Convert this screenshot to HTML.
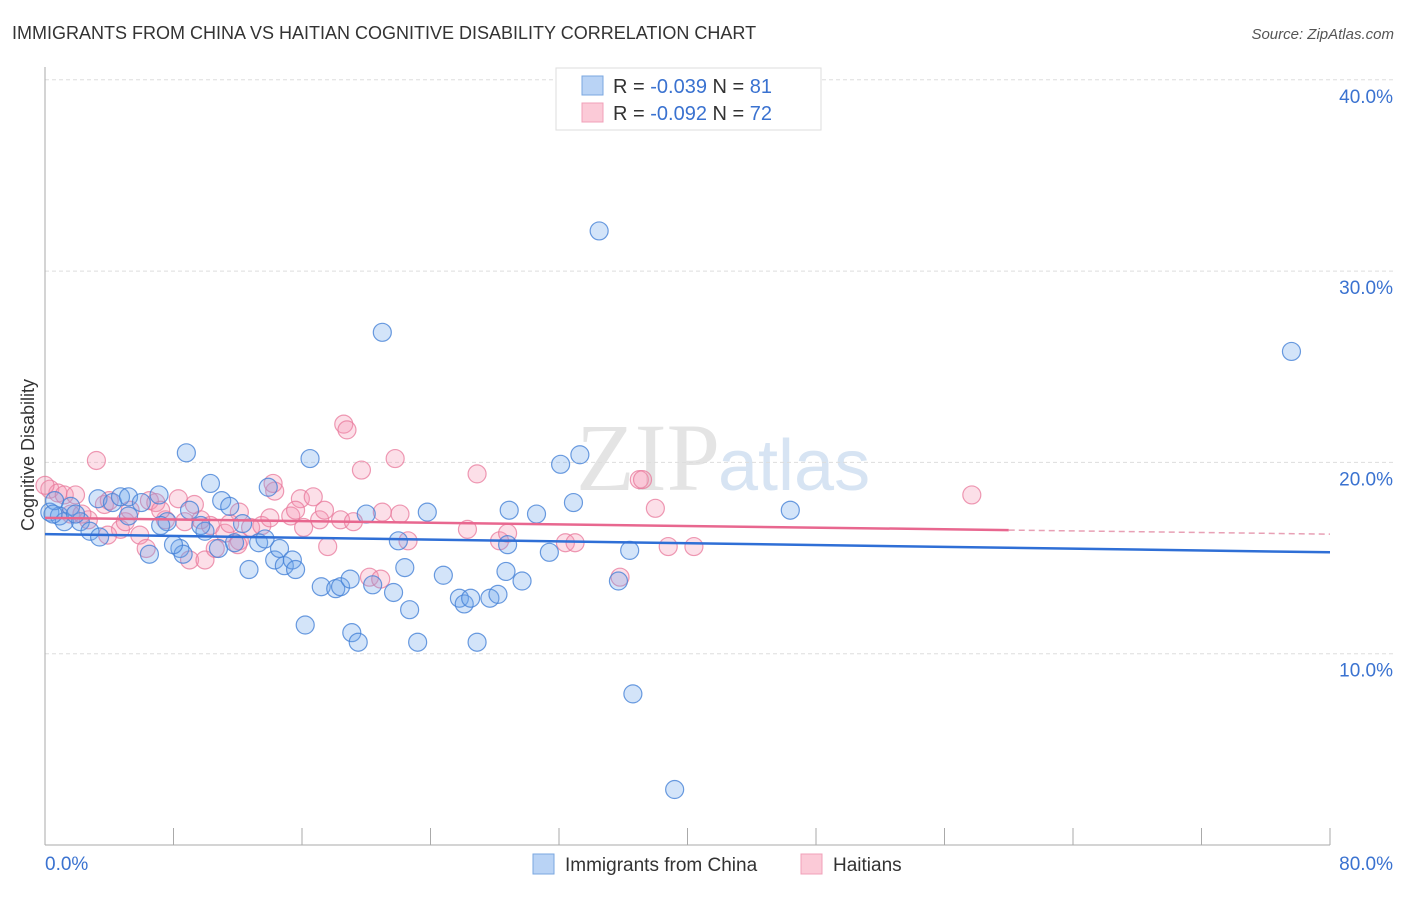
<!DOCTYPE html>
<html><head><meta charset="utf-8"><style>
body{margin:0;background:#fff;font-family:"Liberation Sans",sans-serif;}
#wrap{position:relative;width:1406px;height:892px;}
</style></head><body>
<div id="wrap">
<svg id="svg" width="1406" height="892" xmlns="http://www.w3.org/2000/svg">
<text x="12" y="39" font-size="18" fill="#333">IMMIGRANTS FROM CHINA VS HAITIAN COGNITIVE DISABILITY CORRELATION CHART</text>
<text x="1394" y="39" font-size="15" fill="#555" font-style="italic" text-anchor="end">Source: ZipAtlas.com</text>
<text x="34" y="455" font-size="18" fill="#333" transform="rotate(-90 34 455)" text-anchor="middle">Cognitive Disability</text>
<text x="720" y="490" font-size="96" fill="#e4e4e4" font-family="Liberation Serif" text-anchor="end">ZIP</text>
<text x="718" y="490" font-size="72" fill="#d7e4f3" text-anchor="start">atlas</text>
<g id="grid"></g><g id="axes"></g><g id="pts"></g><g id="trend"></g>
<g>
<rect x="556" y="68" width="265" height="62" fill="#fff" stroke="#ddd"/>
<rect x="582" y="76" width="21" height="19" fill="#b9d3f5" stroke="#7aa7e0"/>
<rect x="582" y="103" width="21" height="19" fill="#fbcad7" stroke="#f0a0b8"/>
<text x="613" y="93" font-size="20" fill="#333">R = <tspan fill="#3a72d0">-0.039</tspan>   N = <tspan fill="#3a72d0">81</tspan></text>
<text x="613" y="120" font-size="20" fill="#333">R = <tspan fill="#3a72d0">-0.092</tspan>   N = <tspan fill="#3a72d0">72</tspan></text>
</g>
<g>
<rect x="533" y="854" width="21" height="20" fill="#b9d3f5" stroke="#7aa7e0"/>
<text x="565" y="871" font-size="19" fill="#333">Immigrants from China</text>
<rect x="801" y="854" width="21" height="20" fill="#fbcad7" stroke="#f0a0b8"/>
<text x="833" y="871" font-size="19" fill="#333">Haitians</text>
</g>
</svg></div>
<script>
const blueX=[34.5,21.0,77.6,8.8,16.5,32.1,33.3,10.3,0.3,0.9,0.6,1.6,2.2,3.3,4.2,4.7,5.2,5.2,6.0,7.1,7.6,8.4,8.6,9.0,9.96,9.7,11.0,10.8,11.5,12.3,12.7,13.3,13.9,14.3,14.6,14.9,15.4,16.2,15.6,17.2,18.1,18.4,19.1,19.5,19.0,20.0,20.4,21.7,22.0,22.4,22.7,23.2,23.8,24.8,25.8,26.1,26.9,26.5,27.7,28.2,28.8,28.7,28.9,30.6,31.4,32.9,35.7,36.6,36.4,39.2,29.7,46.4,1.2,2.8,6.5,8.0,11.8,13.7,7.2,3.4,0.5,1.9];
const blueY=[32.1,26.8,25.8,20.5,20.2,19.9,20.4,18.9,17.4,17.2,18.0,17.7,16.9,18.1,17.9,18.2,18.2,17.2,17.9,18.3,16.9,15.5,15.2,17.5,16.4,16.7,18.0,15.5,17.7,16.8,14.4,15.8,18.7,14.9,15.5,14.6,14.9,11.5,14.4,13.5,13.4,13.5,11.1,10.6,13.9,17.3,13.6,13.2,15.9,14.5,12.3,10.6,17.4,14.1,12.9,12.6,10.6,12.9,12.9,13.1,15.7,14.3,17.5,17.3,15.3,17.9,13.8,7.9,15.4,2.9,13.8,17.5,16.9,16.4,15.2,15.7,15.8,16.0,16.7,16.1,17.3,17.3];
const pinkX=[18.6,3.2,21.8,19.7,26.9,37.0,38.0,57.7,14.3,15.9,16.7,0.3,0.8,1.2,1.9,3.7,4.0,6.5,6.9,8.3,7.5,8.7,9.7,10.3,11.2,12.1,12.8,13.5,12.1,14.0,15.3,15.6,16.1,17.1,17.4,18.4,19.2,17.6,21.0,22.1,20.2,22.6,26.3,28.3,28.8,32.4,33.0,35.8,38.8,40.4,37.2,5.9,4.7,3.9,6.3,9.0,9.96,10.6,12.0,2.7,5.0,5.3,7.2,9.3,0.0,1.6,2.3,11.5,14.2,18.8,20.9];
const pinkY=[22.0,20.1,20.2,19.6,19.4,19.1,17.6,18.3,18.5,18.1,18.2,18.6,18.4,18.3,18.3,17.8,18.0,18.0,17.9,18.1,17.0,16.9,17.0,16.7,16.3,15.9,16.6,16.7,17.4,17.1,17.2,17.5,16.6,17.0,17.5,17.0,16.9,15.6,17.4,17.3,14.0,15.9,16.5,15.9,16.3,15.8,15.8,14.0,15.6,15.6,19.1,16.2,16.5,16.2,15.5,14.9,14.9,15.5,15.7,17.0,16.9,17.5,17.5,17.8,18.8,17.3,17.3,16.8,18.9,21.7,13.9];
const blueTrend=[16.25,15.3];
const pinkTrend=[17.1,16.25];
const pinkSolidEnd=60;
const yTicks=[10,20,30,40];
const yTickLabels=["10.0%","20.0%","30.0%","40.0%"];
const xTicks=[0,8,16,24,32,40,48,56,64,72,80];
const NS="http://www.w3.org/2000/svg";
const X=v=>45+v*(1285/80);
const Y=v=>845-v*19.13;
function mk(tag,attrs,parent){const e=document.createElementNS(NS,tag);for(const k in attrs)e.setAttribute(k,attrs[k]);parent.appendChild(e);return e;}
const grid=document.getElementById('grid'),axes=document.getElementById('axes'),pts=document.getElementById('pts'),trend=document.getElementById('trend');
yTicks.forEach((t,i)=>{
 const l=mk('line',{x1:45,x2:1394,y1:Y(t),y2:Y(t),stroke:'#ddd','stroke-dasharray':'4,3'},grid);
 
 
 const tx=mk('text',{x:1393,y:Y(t)+23,'font-size':19,fill:'#3a72d0','text-anchor':'end'},axes);
 tx.textContent=yTickLabels[i];
 
 
});
const ya=mk('line',{x1:45,x2:45,y1:67,y2:845,stroke:'#aaa'},axes);


const xa=mk('line',{x1:45,x2:1330,y1:845,y2:845,stroke:'#aaa'},axes);


xTicks.forEach(t=>{
 const l=mk('line',{x1:X(t),x2:X(t),y1:828,y2:845,stroke:'#aaa'},axes);
 
 
});
const x0=mk('text',{x:45,y:870,'font-size':19,fill:'#3a72d0'},axes);x0.textContent='0.0%';


const x1=mk('text',{x:1393,y:870,'font-size':19,fill:'#3a72d0','text-anchor':'end'},axes);x1.textContent='80.0%';


pinkX.forEach((v,i)=>{
 const c=mk('circle',{cx:X(v),cy:Y(pinkY[i]),r:9,fill:'rgba(244,150,180,0.3)',stroke:'rgba(232,120,155,0.75)','stroke-width':1.2},pts);
 
 
});
blueX.forEach((v,i)=>{
 const c=mk('circle',{cx:X(v),cy:Y(blueY[i]),r:9,fill:'rgba(110,165,235,0.3)',stroke:'rgba(70,130,215,0.8)','stroke-width':1.2},pts);
 
 
});
const bt=mk('line',{x1:X(0),y1:Y(blueTrend[0]),x2:X(80),y2:Y(blueTrend[1]),stroke:'#2f6fd6','stroke-width':2.5},trend);


const pm=pinkTrend[0]+(pinkTrend[1]-pinkTrend[0])*pinkSolidEnd/80;
const pt=mk('line',{x1:X(0),y1:Y(pinkTrend[0]),x2:X(pinkSolidEnd),y2:Y(pm),stroke:'#e8678f','stroke-width':2.5},trend);


const pd=mk('line',{x1:X(pinkSolidEnd),y1:Y(pm),x2:X(80),y2:Y(pinkTrend[1]),stroke:'#e8a0b5','stroke-width':1.5,'stroke-dasharray':'6,4'},trend);


</script>
</body></html>
